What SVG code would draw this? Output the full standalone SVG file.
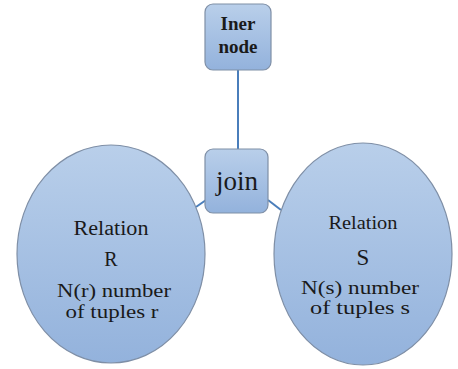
<svg xmlns="http://www.w3.org/2000/svg" width="458" height="369" viewBox="0 0 458 369">
  <defs>
    <linearGradient id="fillBlue" x1="0" y1="0" x2="0" y2="1">
      <stop offset="0" stop-color="#b9cfea"/>
      <stop offset="1" stop-color="#93b2dc"/>
    </linearGradient>
  </defs>
  <style>
    .shape { fill: url(#fillBlue); stroke: #7f8fa6; stroke-width: 1.2; }
    .link { stroke: #4a7ebb; stroke-width: 2; fill: none; }
    .lbl { fill: #1a1a1a; text-anchor: middle; font-family: "Liberation Serif", "Times New Roman", serif; }
    .bold { font-weight: bold; }
  </style>
  <rect width="458" height="369" fill="#ffffff"/>

  <!-- connectors -->
  <g id="connectors">
    <line class="link" x1="238" y1="70" x2="238" y2="149"/>
    <line class="link" x1="206" y1="200" x2="196" y2="207"/>
    <line class="link" x1="268" y1="200" x2="281" y2="210"/>
  </g>

  <!-- inner node -->
  <g id="iner-node">
    <rect class="shape" x="205" y="4" width="66" height="66" rx="8"/>
    <text class="lbl bold" x="238" y="30" font-size="19">Iner</text>
    <text class="lbl bold" x="238" y="53" font-size="19">node</text>
  </g>

  <!-- join node -->
  <g id="join">
    <rect class="shape" x="205" y="149" width="63" height="64" rx="8"/>
    <text class="lbl" x="237" y="190" font-size="27">join</text>
  </g>

  <!-- relation R -->
  <g id="relation-r">
    <ellipse class="shape" cx="111" cy="254" rx="94" ry="109"/>
    <text class="lbl" x="111" y="235" font-size="20" textLength="75" lengthAdjust="spacingAndGlyphs">Relation</text>
    <text class="lbl" x="111" y="266" font-size="20">R</text>
    <text class="lbl" x="114" y="297" font-size="19" textLength="114" lengthAdjust="spacingAndGlyphs">N(r) number</text>
    <text class="lbl" x="112" y="318" font-size="19" textLength="93" lengthAdjust="spacingAndGlyphs">of tuples  r</text>
  </g>

  <!-- relation S -->
  <g id="relation-s">
    <ellipse class="shape" cx="363" cy="254" rx="89" ry="111"/>
    <text class="lbl" x="363" y="229" font-size="19" textLength="69" lengthAdjust="spacingAndGlyphs">Relation</text>
    <text class="lbl" x="363" y="265" font-size="23">S</text>
    <text class="lbl" x="360" y="294" font-size="18" textLength="118" lengthAdjust="spacingAndGlyphs">N(s) number</text>
    <text class="lbl" x="360" y="314" font-size="18" textLength="100" lengthAdjust="spacingAndGlyphs">of tuples  s</text>
  </g>
</svg>
